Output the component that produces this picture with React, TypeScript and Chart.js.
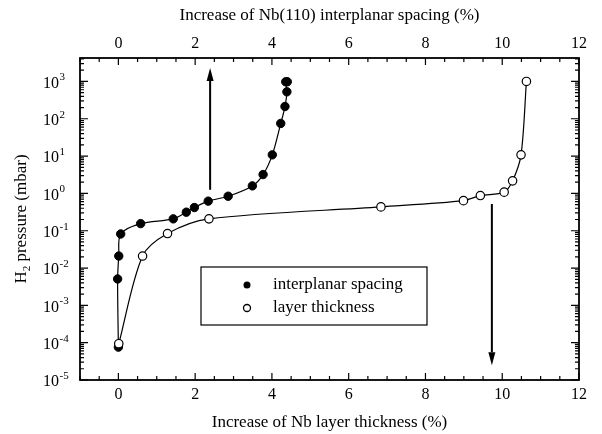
import React, { useEffect, useRef } from 'react';
import { Chart, registerables } from 'chart.js';
Chart.register(...registerables);

// ---- axis definitions ----
const X_MIN = -1;
const X_MAX = 12;
const Y_MIN = 1e-5;
const Y_MAX = 4250;
const xTickValues = [0, 2, 4, 6, 8, 10, 12];
const yDecades = [-5, -4, -3, -2, -1, 0, 1, 2, 3];

const bottomTitle = 'Increase of Nb layer thickness (%)';
const topTitle = 'Increase of Nb(110) interplanar spacing (%)';
const yTitleMain = 'H';
const yTitleSub = '2';
const yTitleRest = ' pressure (mbar)';

// ---- data ----
const spacingLabel = 'interplanar spacing';
const spacingX = [0.0, -0.02, 0.01, 0.06, 0.58, 1.43, 1.77, 1.98, 2.34, 2.86, 3.49, 3.77, 4.01, 4.23, 4.34, 4.39, 4.36, 4.4];
const spacingY = [7.6e-5, 5.1e-3, 0.021, 0.082, 0.155, 0.208, 0.314, 0.418, 0.62, 0.84, 1.59, 3.2, 10.8, 75, 213, 528, 980, 980];

const thicknessLabel = 'layer thickness';
const thicknessX = [0.01, 0.63, 1.28, 2.36, 6.84, 8.99, 9.43, 10.05, 10.27, 10.49, 10.63];
const thicknessY = [9.4e-5, 0.021, 0.084, 0.208, 0.435, 0.64, 0.875, 1.08, 2.17, 10.8, 1000];

// arrows: [x, yFrom, yTo]
const arrowUp = [2.39, 1.25, 2290];
const arrowDown = [9.73, 0.52, 2.5e-5];

const FONT = '"Liberation Serif", "Times New Roman", serif';

function drawArrow(ctx: CanvasRenderingContext2D, chart: any, a: number[]) {
  const xs = chart.scales.x;
  const ys = chart.scales.y;
  const px = xs.getPixelForValue(a[0]);
  const y0 = ys.getPixelForValue(a[1]);
  const y1 = ys.getPixelForValue(a[2]);
  const dir = y1 < y0 ? -1 : 1;
  const headLen = 13;
  const headHalf = 3.5;
  ctx.beginPath();
  ctx.lineWidth = 2;
  ctx.moveTo(px, y0);
  ctx.lineTo(px, y1 - dir * headLen);
  ctx.stroke();
  ctx.beginPath();
  ctx.moveTo(px, y1);
  ctx.lineTo(px - headHalf, y1 - dir * headLen);
  ctx.lineTo(px + headHalf, y1 - dir * headLen);
  ctx.closePath();
  ctx.fill();
}

const decorPlugin = {
  id: 'decor',
  afterDraw(chart: any) {
    const ctx: CanvasRenderingContext2D = chart.ctx;
    const { left, right, top, bottom } = chart.chartArea;
    const xs = chart.scales.x;
    const ys = chart.scales.y;
    ctx.save();
    ctx.strokeStyle = '#000';
    ctx.fillStyle = '#000';

    // frame
    ctx.lineWidth = 1.8;
    ctx.strokeRect(left, top, right - left, bottom - top);

    // x ticks (inward, bottom & top)
    ctx.lineWidth = 1.2;
    for (let v = X_MIN; v <= X_MAX + 1e-9; v += 0.5) {
      const px = xs.getPixelForValue(v);
      const major = xTickValues.includes(v);
      const len = major ? 7 : 4;
      ctx.beginPath();
      ctx.moveTo(px, bottom);
      ctx.lineTo(px, bottom - len);
      ctx.moveTo(px, top);
      ctx.lineTo(px, top + len);
      ctx.stroke();
    }
    // y ticks (inward, left & right)
    for (const d of yDecades) {
      for (let m = 1; m <= 9; m++) {
        const v = m * Math.pow(10, d);
        if (v > Y_MAX || v < Y_MIN * 0.999) continue;
        const py = ys.getPixelForValue(v);
        const len = m === 1 ? 8 : 4;
        ctx.beginPath();
        ctx.moveTo(left, py);
        ctx.lineTo(left + len, py);
        ctx.moveTo(right, py);
        ctx.lineTo(right - len, py);
        ctx.stroke();
      }
    }

    // y tick labels 10^n
    ctx.textBaseline = 'middle';
    ctx.textAlign = 'left';
    for (const d of yDecades) {
      const py = ys.getPixelForValue(Math.pow(10, d));
      ctx.font = `16px ${FONT}`;
      const baseX = 43;
      ctx.fillText('10', baseX, py + 2);
      const w = ctx.measureText('10').width;
      ctx.font = `11px ${FONT}`;
      ctx.fillText(String(d), baseX + w + 0.5, py - 4);
    }

    // y title (rotated, with subscript)
    ctx.save();
    ctx.translate(22, (top + bottom) / 2);
    ctx.rotate(-Math.PI / 2);
    ctx.font = `17px ${FONT}`;
    const wMain = ctx.measureText(yTitleMain).width;
    const wRest = ctx.measureText(yTitleRest).width;
    ctx.font = `11px ${FONT}`;
    const wSub = ctx.measureText(yTitleSub).width;
    let sx = -(wMain + wSub + wRest) / 2;
    ctx.textAlign = 'left';
    ctx.font = `17px ${FONT}`;
    ctx.fillText(yTitleMain, sx, 0);
    sx += wMain;
    ctx.font = `11px ${FONT}`;
    ctx.fillText(yTitleSub, sx, 5);
    sx += wSub;
    ctx.font = `17px ${FONT}`;
    ctx.fillText(yTitleRest, sx, 0);
    ctx.restore();

    // arrows
    drawArrow(ctx, chart, arrowUp);
    drawArrow(ctx, chart, arrowDown);

    // legend box
    const lx = 201, ly = 267, lw = 226, lh = 58;
    ctx.fillStyle = '#fff';
    ctx.fillRect(lx, ly, lw, lh);
    ctx.fillStyle = '#000';
    ctx.lineWidth = 1.2;
    ctx.strokeRect(lx, ly, lw, lh);
    const entries = [
      { label: spacingLabel, filled: true, y: 285 },
      { label: thicknessLabel, filled: false, y: 308 },
    ];
    ctx.font = `17px ${FONT}`;
    ctx.textBaseline = 'middle';
    ctx.textAlign = 'left';
    for (const e of entries) {
      ctx.beginPath();
      ctx.arc(247, e.y, 3.5, 0, Math.PI * 2);
      if (e.filled) {
        ctx.fill();
      } else {
        ctx.lineWidth = 1.3;
        ctx.stroke();
      }
      ctx.fillText(e.label, 273, e.y);
    }
    ctx.restore();
  },
};

export default function App() {
  const ref = useRef<HTMLCanvasElement | null>(null);
  useEffect(() => {
    if (!ref.current) return;
    Chart.defaults.color = '#000';
    const decadeTicks = (scale: any) => {
      scale.ticks = yDecades.map((d) => ({ value: Math.pow(10, d) }));
    };
    const xTicks = (scale: any) => {
      scale.ticks = xTickValues.map((v) => ({ value: v }));
    };
    const chart = new Chart(ref.current, {
      type: 'scatter',
      data: {
        datasets: [
          {
            label: thicknessLabel,
            data: thicknessX.map((x, i) => ({ x, y: thicknessY[i] })),
            showLine: true,
            tension: 0.3,
            borderColor: '#000',
            borderWidth: 1.2,
            pointRadius: 4.2,
            pointBackgroundColor: '#fff',
            pointBorderColor: '#000',
            pointBorderWidth: 1.2,
            xAxisID: 'x',
            yAxisID: 'y',
          },
          {
            label: spacingLabel,
            data: spacingX.map((x, i) => ({ x, y: spacingY[i] })),
            showLine: true,
            tension: 0.3,
            borderColor: '#000',
            borderWidth: 1.2,
            pointRadius: 4.2,
            pointBackgroundColor: '#000',
            pointBorderColor: '#000',
            pointBorderWidth: 1,
            xAxisID: 'x',
            yAxisID: 'y',
          },
        ],
      },
      options: {
        animation: false,
        responsive: true,
        maintainAspectRatio: false,
        layout: { padding: 0 },
        plugins: { legend: { display: false }, tooltip: { enabled: false } },
        scales: {
          x: {
            type: 'linear',
            position: 'bottom',
            min: X_MIN,
            max: X_MAX,
            afterBuildTicks: xTicks,
            afterFit: (s: any) => { s.height = 54; },
            grid: { display: false, drawTicks: false },
            border: { display: false },
            ticks: { font: { family: FONT, size: 16 }, color: '#000', padding: 5.5, maxRotation: 0 },
            title: { display: true, text: bottomTitle, font: { family: FONT, size: 17 }, color: '#000', padding: { top: 0, bottom: 1 } },
          },
          x2: {
            type: 'linear',
            position: 'top',
            min: X_MIN,
            max: X_MAX,
            afterBuildTicks: xTicks,
            afterFit: (s: any) => { s.height = 58; },
            grid: { display: false, drawTicks: false },
            border: { display: false },
            ticks: { font: { family: FONT, size: 16 }, color: '#000', padding: 4.5, maxRotation: 0 },
            title: { display: true, text: topTitle, font: { family: FONT, size: 17 }, color: '#000', padding: { top: 5.5, bottom: 0 } },
          },
          y: {
            type: 'logarithmic',
            position: 'left',
            min: Y_MIN,
            max: Y_MAX,
            afterBuildTicks: decadeTicks,
            afterFit: (s: any) => { s.width = 80; },
            grid: { display: false, drawTicks: false },
            border: { display: false },
            ticks: { display: false },
          },
          y2: {
            type: 'logarithmic',
            position: 'right',
            min: Y_MIN,
            max: Y_MAX,
            afterBuildTicks: decadeTicks,
            afterFit: (s: any) => { s.width = 23; },
            grid: { display: false, drawTicks: false },
            border: { display: false },
            ticks: { display: false },
          },
        },
      } as any,
      plugins: [decorPlugin],
    });
    return () => chart.destroy();
  }, []);

  return (
    <div style={{ position: 'absolute', left: 0, top: 0, width: 602, height: 434, background: '#fff' }}>
      <canvas ref={ref} />
    </div>
  );
}
